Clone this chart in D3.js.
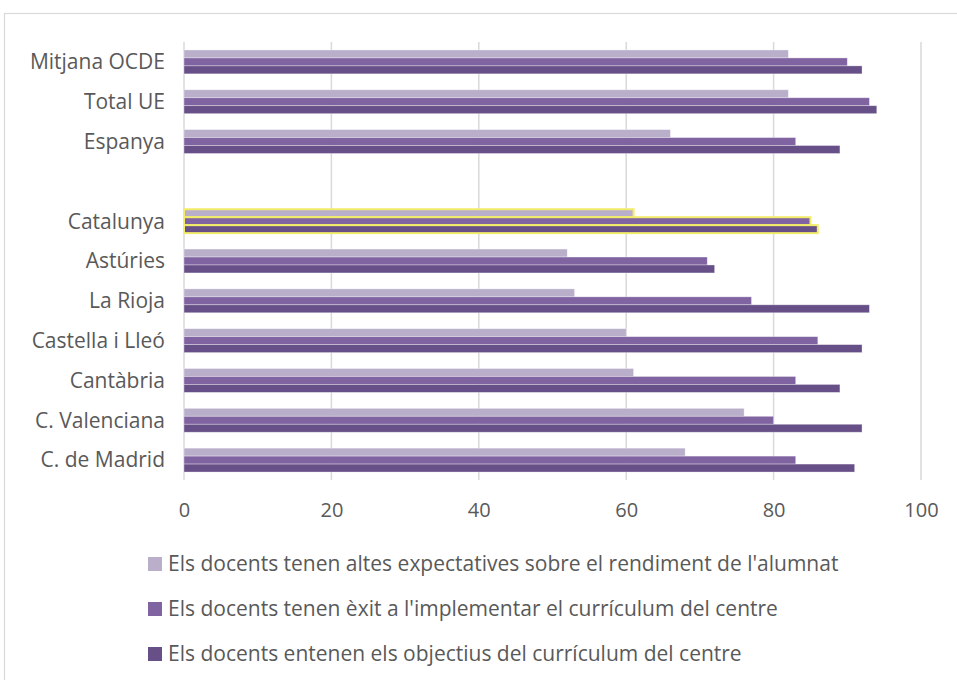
<!DOCTYPE html>
<html>
<head>
<meta charset="utf-8">
<script src="https://cdn.jsdelivr.net/npm/d3@7"></script>
<style>
  html, body { margin: 0; padding: 0; background: #fff; }
  svg { display: block; }
  text { font-family: "Open Sans", Lato, sans-serif; fill: #595959; }
</style>
</head>
<body>
<svg id="chart" width="957" height="680"></svg>
<script>
// Categories, top to bottom (the empty one leaves a spacer row)
const categories = ["Mitjana OCDE", "Total UE", "Espanya", "", "Catalunya", "Astúries",
  "La Rioja", "Castella i Lleó", "Cantàbria", "C. Valenciana", "C. de Madrid"];

const seriesNames = [
  "Els docents tenen altes expectatives sobre el rendiment de l'alumnat",
  "Els docents tenen èxit a l'implementar el currículum del centre",
  "Els docents entenen els objectius del currículum del centre"
];

const expectatives = [82, 82, 66, null, 61, 52, 53, 60, 61, 76, 68];
const exitCurriculum = [90, 93, 83, null, 85, 71, 77, 86, 83, 80, 83];
const entenenObjectius = [92, 94, 89, null, 86, 72, 93, 92, 89, 92, 91];

const xTicks = [0, 20, 40, 60, 80, 100];
const highlighted = ["Catalunya"];

const colors = ["#B9AFCB", "#8064A2", "#674F87"];
const seriesValues = [expectatives, exitCurriculum, entenenObjectius];

const svg = d3.select("#chart");

// Outer chart frame
svg.append("rect")
  .attr("x", 4.5).attr("y", 13.5)
  .attr("width", 1000).attr("height", 1000)
  .attr("fill", "none").attr("stroke", "#D9D9D9").attr("stroke-width", 1.2);

const plot = { left: 184, right: 921, top: 42, bottom: 480 };

const x = d3.scaleLinear().domain([0, 100]).range([plot.left, plot.right]);
const y = d3.scaleBand().domain(categories).range([plot.top, plot.bottom])
  .paddingInner(0.4).paddingOuter(0.2);
const ySub = d3.scaleBand().domain(d3.range(seriesNames.length)).range([0, y.bandwidth()]);

// Vertical gridlines
svg.append("g").selectAll("line").data(xTicks).join("line")
  .attr("x1", d => x(d)).attr("x2", d => x(d))
  .attr("y1", plot.top).attr("y2", plot.bottom)
  .attr("stroke", "#D9D9D9").attr("stroke-width", 1.5);

// Bars
const rows = categories.map((c, i) => ({
  cat: c,
  vals: seriesValues.map((s, k) => ({ k, v: s[i] }))
}));

const groups = svg.append("g").selectAll("g").data(rows).join("g")
  .attr("transform", d => `translate(0,${y(d.cat)})`);

groups.selectAll("rect")
  .data(d => d.vals.filter(e => e.v != null).map(e => ({ ...e, cat: d.cat })))
  .join("rect")
  .attr("x", x(0))
  .attr("y", d => ySub(d.k))
  .attr("width", d => x(d.v) - x(0))
  .attr("height", ySub.bandwidth())
  .attr("fill", d => colors[d.k])
  .attr("stroke", d => highlighted.includes(d.cat) ? "#F2EC6A" : "rgba(255,255,255,0.45)")
  .attr("stroke-width", d => highlighted.includes(d.cat) ? 2 : 0.75);

// Category labels
svg.append("g").selectAll("text").data(categories.filter(c => c !== "")).join("text")
  .attr("x", plot.left - 19)
  .attr("y", d => y(d) + y.bandwidth() / 2)
  .attr("dy", "0.35em")
  .attr("text-anchor", "end")
  .attr("font-size", 21)
  .text(d => d);

// X axis tick labels
const xAxis = d3.axisBottom(x).tickValues(xTicks).tickSize(0).tickPadding(23);
const gx = svg.append("g").attr("transform", `translate(0,${plot.bottom})`).call(xAxis);
gx.select(".domain").remove();
gx.selectAll("text").attr("font-size", 20).attr("fill", "#595959")
  .style("font-family", "'Open Sans', Lato, sans-serif");

// Legend
const legend = svg.append("g").selectAll("g").data(seriesNames).join("g")
  .attr("transform", (d, i) => `translate(148,${564 + i * 45})`);
legend.append("rect")
  .attr("x", 0).attr("y", -7).attr("width", 14).attr("height", 14)
  .attr("fill", (d, i) => colors[i]);
legend.append("text")
  .attr("x", 20).attr("y", 0).attr("dy", "0.35em")
  .attr("font-size", 21)
  .text(d => d);
</script>
</body>
</html>
